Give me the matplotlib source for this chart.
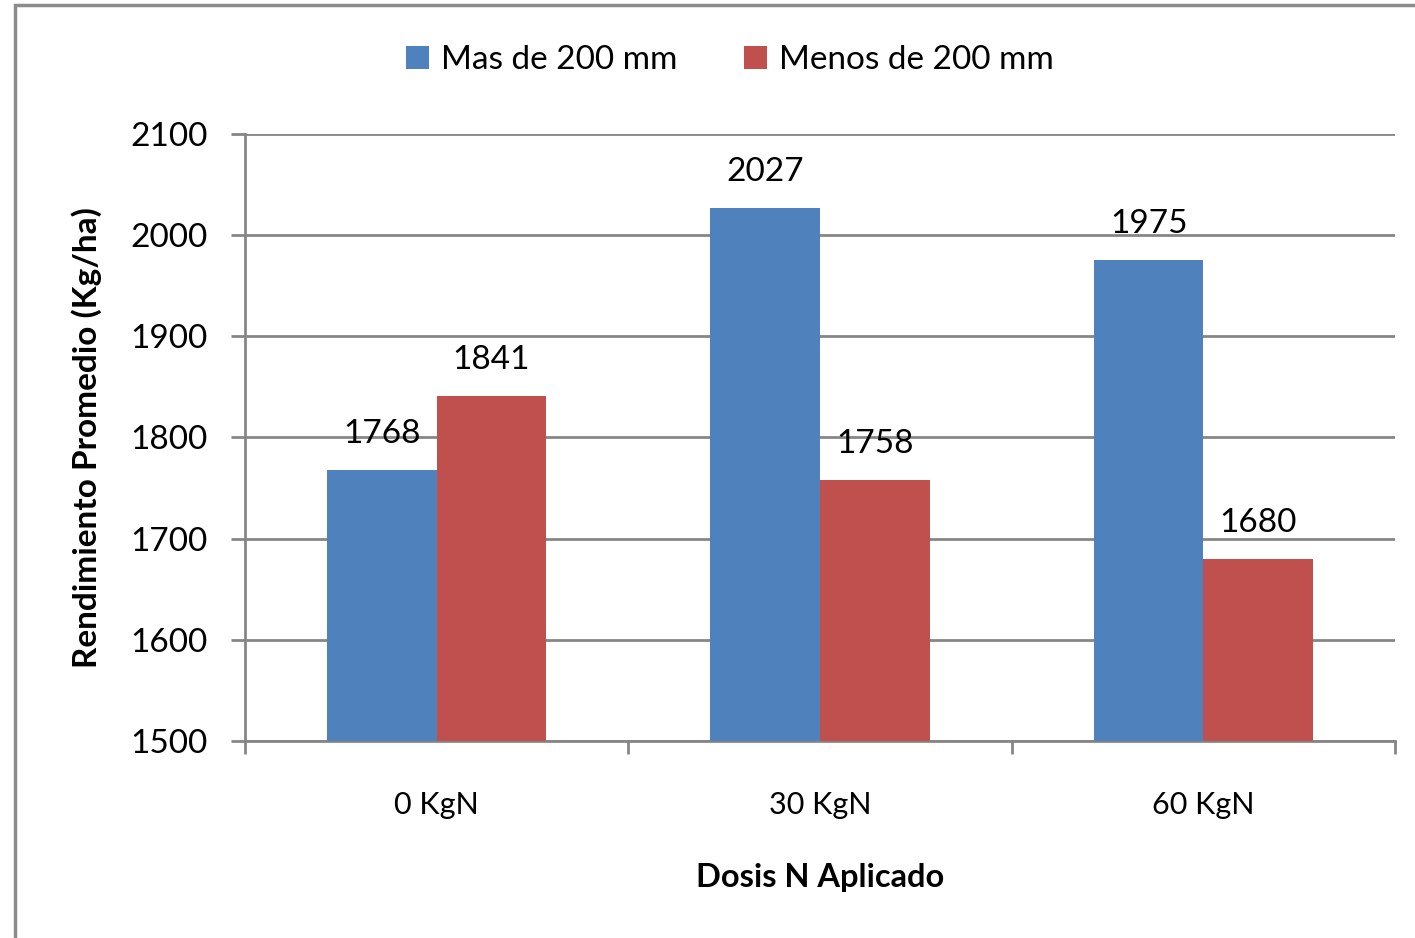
import matplotlib
matplotlib.use("Agg")
import matplotlib.pyplot as plt
from matplotlib.patches import Rectangle
import numpy as np

categories = ["0 KgN", "30 KgN", "60 KgN"]
series_names = ["Mas de 200 mm", "Menos de 200 mm"]
mas_200 = [1768, 2027, 1975]
menos_200 = [1841, 1758, 1680]
y_ticks = [1500, 1600, 1700, 1800, 1900, 2000, 2100]

plt.rcParams['font.family'] = ['Lato', 'DejaVu Sans']

W, H = 1415, 938
fig = plt.figure(figsize=(W / 100, H / 100), dpi=100)
ax = fig.add_axes([245 / W, 1 - 741 / H, 1150 / W, 607 / H])

grid_col = "#868686"
blue = "#4F81BD"
red = "#C0504D"

x = np.arange(len(categories))
bw = 0.2857
b1 = ax.bar(x - bw / 2, mas_200, bw, color=blue, label=series_names[0], zorder=3)
b2 = ax.bar(x + bw / 2, menos_200, bw, color=red, label=series_names[1], zorder=3)

for bars, vals in ((b1, mas_200), (b2, menos_200)):
    for r, v in zip(bars, vals):
        ax.annotate(str(v), (r.get_x() + r.get_width() / 2, v), xytext=(0, 26),
                    textcoords="offset points", ha="center", va="center",
                    fontsize=24, color="black")

ax.set_xlim(-0.5, 2.5)
ax.set_ylim(1500, 2100)
ax.set_yticks(y_ticks)
ax.set_yticklabels([str(t) for t in y_ticks], fontsize=24)
ax.yaxis.grid(True, color=grid_col, linewidth=2, zorder=0)
ax.set_axisbelow(True)

ax.set_xticks(x)
ax.set_xticklabels(categories, fontsize=22)
ax.tick_params(axis='x', length=0, pad=36)
ax.set_xticks([-0.5, 0.5, 1.5, 2.5], minor=True)
ax.tick_params(axis='x', which='minor', length=9, width=2, color=grid_col, direction='out')
ax.tick_params(axis='y', length=10, width=2, color=grid_col, direction='out', pad=17)

for s in ["top", "right"]:
    ax.spines[s].set_visible(False)
ax.spines["left"].set_color(grid_col)
ax.spines["left"].set_linewidth(2)
ax.spines["bottom"].set_color(grid_col)
ax.spines["bottom"].set_linewidth(2)

ax.set_ylabel("Rendimiento Promedio (Kg/ha)", fontsize=24, fontweight="bold", labelpad=20)
ax.set_xlabel("Dosis N Aplicado", fontsize=23.5, fontweight="bold", labelpad=32)

leg = fig.legend(loc="center", bbox_to_anchor=(730 / W, 1 - 60 / H), ncol=2, frameon=False,
                 fontsize=24, handlelength=0.7, handleheight=0.7, handletextpad=0.35,
                 columnspacing=2.0)

fig.patches.append(Rectangle((15 / W, -0.1), 1.2, 1.1 - 5 / H, transform=fig.transFigure,
                             fill=False, edgecolor="#8C8C8C", linewidth=2.5, clip_on=False))

fig.savefig("out.png", dpi=100, facecolor="white")
